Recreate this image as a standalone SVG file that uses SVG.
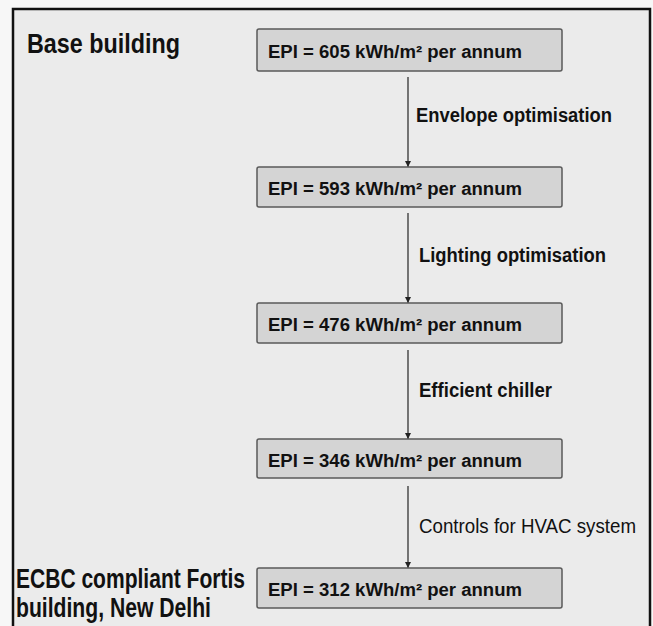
<svg xmlns="http://www.w3.org/2000/svg" width="653" height="626" viewBox="0 0 653 626">
  <style>
    .box { fill: #d4d4d4; stroke: #5a5a5a; stroke-width: 1.5; }
    text { font-family: "Liberation Sans", Arial, sans-serif; fill: #111; }
    .epi { font-weight: bold; font-size: 18px; }
    .lbl { font-weight: bold; font-size: 19.5px; }
    .lblr { font-size: 20px; }
    .title { font-weight: bold; font-size: 27px; }
    .conn { stroke: #333; stroke-width: 1.3; fill: none; marker-end: url(#arr); }
  </style>
  <defs>
    <marker id="arr" viewBox="0 0 10 10" refX="10" refY="5" markerWidth="6" markerHeight="8" markerUnits="userSpaceOnUse" orient="auto">
      <path d="M0,0 L10,5 L0,10 z" fill="#222"/>
    </marker>
  </defs>
  <rect x="0" y="0" width="653" height="626" fill="#f7f7f7"/>
  <rect x="13" y="9" width="637" height="640" fill="#ebebeb" stroke="#111" stroke-width="2.5"/>

  <g id="connectors">
    <line class="conn" x1="408" y1="77" x2="408" y2="167"/>
    <line class="conn" x1="408" y1="213" x2="408" y2="303"/>
    <line class="conn" x1="408" y1="350" x2="408" y2="439"/>
    <line class="conn" x1="408" y1="486" x2="408" y2="568"/>
    <text class="lbl" x="416" y="122" textLength="196" lengthAdjust="spacingAndGlyphs">Envelope optimisation</text>
    <text class="lbl" x="419" y="262" textLength="187" lengthAdjust="spacingAndGlyphs">Lighting optimisation</text>
    <text class="lbl" x="419" y="397" textLength="133" lengthAdjust="spacingAndGlyphs">Efficient chiller</text>
    <text class="lblr" x="419" y="533" textLength="217" lengthAdjust="spacingAndGlyphs">Controls for HVAC system</text>
  </g>

  <g id="title-base">
    <text class="title" x="27" y="53" textLength="153" lengthAdjust="spacingAndGlyphs">Base building</text>
  </g>
  <g id="title-ecbc">
    <text class="title" x="16" y="588" font-size="25" textLength="229" lengthAdjust="spacingAndGlyphs">ECBC compliant Fortis</text>
    <text class="title" x="16" y="617" font-size="25" textLength="195" lengthAdjust="spacingAndGlyphs">building, New Delhi</text>
  </g>

  <g id="node1">
    <rect class="box" x="257" y="29" width="305" height="42" rx="2"/>
    <text class="epi" x="268" y="58" textLength="254" lengthAdjust="spacingAndGlyphs">EPI = 605 kWh/m² per annum</text>
  </g>
  <g id="node2">
    <rect class="box" x="257" y="167" width="305" height="40" rx="2"/>
    <text class="epi" x="268" y="195" textLength="254" lengthAdjust="spacingAndGlyphs">EPI = 593 kWh/m² per annum</text>
  </g>
  <g id="node3">
    <rect class="box" x="257" y="303" width="305" height="40" rx="2"/>
    <text class="epi" x="268" y="331" textLength="254" lengthAdjust="spacingAndGlyphs">EPI = 476 kWh/m² per annum</text>
  </g>
  <g id="node4">
    <rect class="box" x="257" y="439" width="305" height="39" rx="2"/>
    <text class="epi" x="268" y="467" textLength="254" lengthAdjust="spacingAndGlyphs">EPI = 346 kWh/m² per annum</text>
  </g>
  <g id="node5">
    <rect class="box" x="257" y="568" width="305" height="40" rx="2"/>
    <text class="epi" x="268" y="596" textLength="254" lengthAdjust="spacingAndGlyphs">EPI = 312 kWh/m² per annum</text>
  </g>
</svg>
